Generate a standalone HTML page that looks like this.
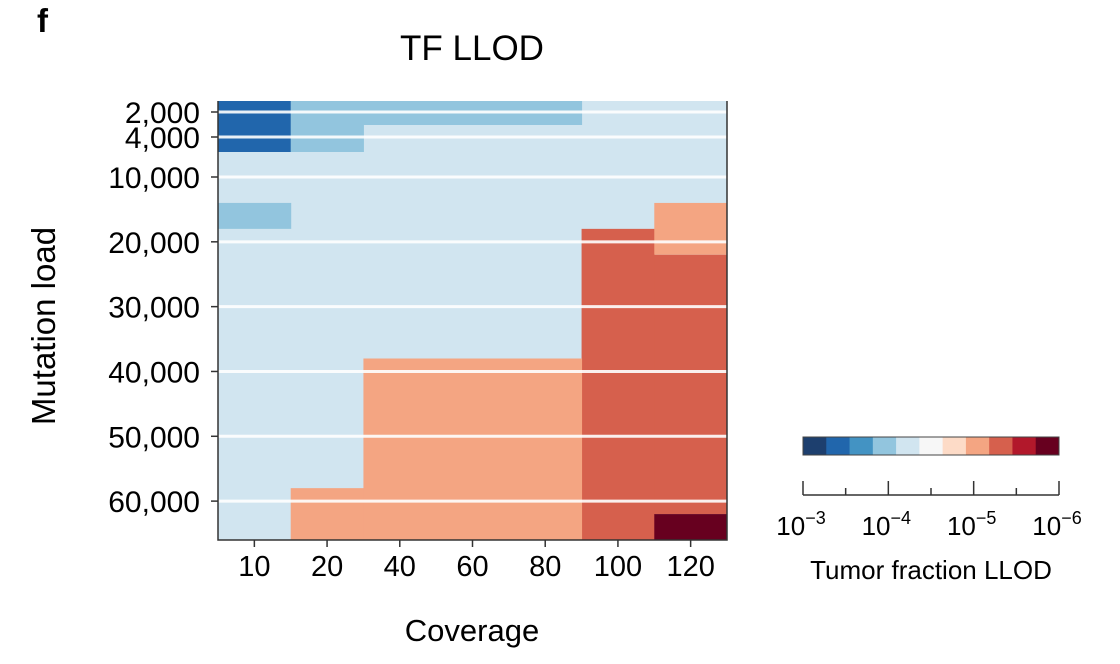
<!DOCTYPE html>
<html><head><meta charset="utf-8"><style>
html,body{margin:0;padding:0;background:#fff;}
svg{display:block;font-family:"Liberation Sans",sans-serif;}
</style></head><body>
<svg id="chart" width="1120" height="664" viewBox="0 0 1120 664">
<text x="37" y="32" font-size="33" font-weight="bold">f</text>
<text x="472" y="60" font-size="35" text-anchor="middle">TF LLOD</text>
<g id="plot"></g>
<g id="legend"></g>
<text x="472" y="641" font-size="31" text-anchor="middle">Coverage</text>
<text transform="translate(55,326) rotate(-90)" font-size="33" text-anchor="middle">Mutation load</text>
<text x="931" y="579" font-size="26" text-anchor="middle">Tumor fraction LLOD</text>
</svg>
<script>
const coverages = ['10','20','40','60','80','100','120'];
const yTickValues = [2000,4000,10000,20000,30000,40000,50000,60000];
const yTickLabels = ['2,000','4,000','10,000','20,000','30,000','40,000','50,000','60,000'];
const palette = ['#1d3f6e','#2166ac','#4393c3','#92c5de','#d1e5f0','#f7f7f7','#fddbc7','#f4a582','#d6604d','#b2182b','#67001f'];
const backgroundLevel = 4;
// regions: [colStart, colEnd(exclusive), loadLow, loadHigh, paletteLevel]
const regionCols0 = [0,1,1,0,5,6,6,6,2,1];
const regionCols1 = [1,5,2,1,6,7,7,7,5,2];
const regionLoadLo = [1100,1100,3000,14000,18000,14000,22000,62000,38000,58000];
const regionLoadHi = [5000,3000,5000,18000,66000,22000,62000,66000,66000,66000];
const regionLevel = [1,3,3,3,8,7,8,10,7,7];

const NS='http://www.w3.org/2000/svg';
const X0=218,X1=727,Ytop=101,Ybot=540;
const colW=(X1-X0)/coverages.length;
const xs=i=>X0+i*colW;
const axV=[1100,2000,3000,4000,5000,10000,66000];
const axP=[101,112,125,137,152,177,540];
function ys(v){for(let i=0;i<axV.length-1;i++){if(v<=axV[i+1]||i==axV.length-2){const t=(v-axV[i])/(axV[i+1]-axV[i]);return axP[i]+t*(axP[i+1]-axP[i]);}}}
function mk(tag,attrs,parent){const e=document.createElementNS(NS,tag);for(const k in attrs)e.setAttribute(k,attrs[k]);parent.appendChild(e);return e;}
const plot=document.getElementById('plot');
const bg=mk('rect',{x:X0,y:Ytop,width:X1-X0,height:Ybot-Ytop,fill:palette[backgroundLevel]},plot);


for(let i=0;i<regionLevel.length;i++){
  const y0=ys(regionLoadHi[i]),y1=ys(regionLoadLo[i]);
  const a=Math.min(y0,y1),b=Math.max(y0,y1);
  const r=mk('rect',{x:xs(regionCols0[i]),y:a,width:xs(regionCols1[i])-xs(regionCols0[i])+0.5,height:b-a,fill:palette[regionLevel[i]]},plot);
  
  
}
yTickValues.forEach((v,i)=>{
  const y=ys(v);
  const g=mk('line',{x1:X0,x2:X1,y1:y,y2:y,stroke:'#fff','stroke-width':3,opacity:0.9},plot);
  
  
  const t=mk('line',{x1:X0-7,x2:X0,y1:y,y2:y,stroke:'#333','stroke-width':1.5},plot);
  
  
  const l=mk('text',{x:X0-18,y:y+11,'font-size':30,'text-anchor':'end'},plot);
  l.textContent=yTickLabels[i];
  
  
});
coverages.forEach((c,i)=>{
  const x=xs(i)+colW/2;
  const t=mk('line',{x1:x,x2:x,y1:Ybot,y2:Ybot+7,stroke:'#333','stroke-width':1.5},plot);
  
  
  const l=mk('text',{x:x,y:Ybot+27+10,'font-size':29,'text-anchor':'middle'},plot);
  l.setAttribute('y',Ybot+36);
  l.textContent=c;
  
  
});
const ax=mk('path',{d:`M${X0},${Ytop} V${Ybot} H${X1} V${Ytop}`,fill:'none',stroke:'#333','stroke-width':1.5},plot);



const leg=document.getElementById('legend');
const L0=803,L1=1059,LY=437,LH=18;
const sw=(L1-L0)/palette.length;
palette.forEach((c,i)=>{
  const r=mk('rect',{x:L0+i*sw,y:LY,width:sw+0.5,height:LH,fill:c},leg);
  
  
});
const fr=mk('rect',{x:L0,y:LY,width:L1-L0,height:LH,fill:'none',stroke:'#444','stroke-width':1},leg);


const cbExp=['\u22123','\u22124','\u22125','\u22126'];
const al=mk('line',{x1:L0,x2:L1,y1:495,y2:495,stroke:'#333','stroke-width':1.5},leg);


for(let k=0;k<=6;k++){
  const x=L0+k*(L1-L0)/6;const major=k%2==0;
  const t=mk('line',{x1:x,x2:x,y1:major?481:488,y2:495,stroke:'#333','stroke-width':1.5},leg);
  
  
  if(major){
    const tx=mk('text',{x:x-2,y:535,'font-size':26,'text-anchor':'middle'},leg);
    tx.textContent='10';
    const sp=mk('tspan',{dy:-11,'font-size':18},tx);
    sp.textContent=cbExp[k/2];
    
    
  }
}
</script>
</body></html>
